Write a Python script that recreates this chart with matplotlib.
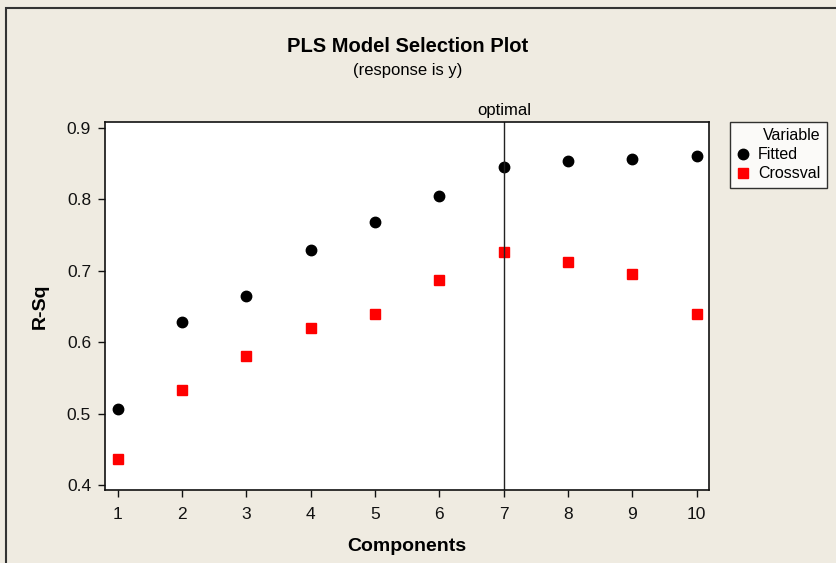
import matplotlib.pyplot as plt
from matplotlib.patches import Rectangle
from matplotlib.lines import Line2D

components = [1, 2, 3, 4, 5, 6, 7, 8, 9, 10]
fitted = [0.506, 0.628, 0.664, 0.729, 0.768, 0.805, 0.846, 0.854, 0.857, 0.861]
crossval = [0.437, 0.533, 0.581, 0.620, 0.640, 0.687, 0.726, 0.712, 0.696, 0.640]
optimal = 7
y_ticks = [0.4, 0.5, 0.6, 0.7, 0.8, 0.9]

plt.rcParams['font.family'] = ['Liberation Sans', 'DejaVu Sans']

bg = '#EFEBE1'
fig = plt.figure(figsize=(8.37, 5.63), dpi=100, facecolor=bg)
fig.patches.append(Rectangle((6 / 837, -0.1), 1.2, 1 - 8 / 563 + 0.1,
                             transform=fig.transFigure, fill=False,
                             edgecolor='#333333', linewidth=1.5))

ax = fig.add_axes([0.1254, 0.1297, 0.7216, 0.6536])
ax.set_facecolor('white')
ax.plot(components, fitted, 'o', color='black', markersize=7.5, label='Fitted')
ax.plot(components, crossval, 's', color='#FF0000', markersize=7, label='Crossval')
ax.axvline(optimal, color='#222222', linewidth=1)

ax.set_xlim(0.8, 10.19)
ax.set_ylim(0.393, 0.9084)
ax.set_xticks(components)
ax.set_yticks(y_ticks)
ax.set_yticklabels(['%.1f' % v for v in y_ticks])
ax.tick_params(direction='out', length=5, width=1, labelsize=12.5, colors='#111111')
ax.tick_params(axis='x', pad=7)
ax.tick_params(axis='y', pad=5)
for s in ax.spines.values():
    s.set_linewidth(1.2)
    s.set_color('#111111')

ax.set_xlabel('Components', fontsize=14, fontweight='bold', labelpad=12)
ax.set_ylabel('R-Sq', fontsize=14, fontweight='bold', labelpad=13)

fig.text(408 / 837, 1 - 46 / 563, 'PLS Model Selection Plot', ha='center', va='center',
         fontsize=14.5, fontweight='bold')
fig.text(408 / 837, 1 - 71 / 563, '(response is y)', ha='center', va='center', fontsize=12)
ax.text(optimal, 1.012, 'optimal', transform=ax.get_xaxis_transform(),
        ha='center', va='bottom', fontsize=12)

handles = [Line2D([], [], linestyle='none', marker='o', color='black', markersize=7.5),
           Line2D([], [], linestyle='none', marker='s', color='#FF0000', markersize=7)]
leg = fig.legend(handles, ['Fitted', 'Crossval'], title='Variable', loc='upper left',
                 bbox_to_anchor=(730 / 837, 1 - 122 / 563), borderaxespad=0,
                 fontsize=11.5, title_fontsize=11.5, frameon=True, fancybox=False,
                 edgecolor='black', handlelength=0.8, handletextpad=0.55,
                 borderpad=0.4, labelspacing=0.25, alignment='right')
leg.get_frame().set_linewidth(1)

fig.savefig('out.png', dpi=100, facecolor=bg)
